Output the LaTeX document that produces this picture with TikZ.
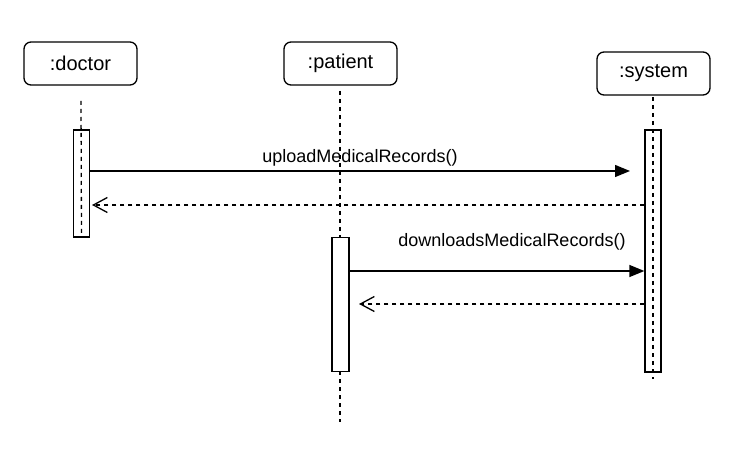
\documentclass[tikz,border=0pt]{standalone}
\usepackage{fontspec}
\setmainfont{Liberation Sans}
\usetikzlibrary{arrows.meta}
\begin{document}
\begin{tikzpicture}[x=1pt,y=-1pt,
  obj/.style={draw, rounded corners=7pt, line width=1.3pt, minimum width=113pt, minimum height=43pt, inner sep=0pt, font=\fontsize{20}{22}\selectfont},
  act/.style={draw, line width=1.3pt, minimum width=16pt, inner sep=0pt},
  life/.style={line width=1.3pt, dash pattern=on 4pt off 4pt},
  msg/.style={line width=1.3pt, -{Triangle[length=15pt,width=12pt]}},
  ret/.style={line width=1.3pt, dash pattern=on 4pt off 4pt, -{Straight Barb[length=14pt,width=15pt,line width=1.3pt]}},
  lbl/.style={inner sep=0pt, font=\fontsize{18}{20}\selectfont}
]
\useasboundingbox (0,0) rectangle (742,457);
% objects
\node[obj] (doc) at (80.5,63.5) {:doctor};
\node[obj] (pat) at (340.5,63.5) {:patient};
\node[obj] (sys) at (653.5,73.5) {:system};
% lifeline coordinates
\coordinate (dl0) at (81,101);
\coordinate (pl0) at (340,91);
\coordinate (pl1) at (340,422);
\coordinate (sl0) at (653,97);
\coordinate (sl1) at (653,379);
% activation boxes
\node[act, minimum height=107pt] (da) at (81.5,183.5) {};
\node[act, minimum height=242pt] (sa) at (653,251) {};
% lifelines
\draw[life] (dl0) -- (da.south);
\draw[life] (sl0) -- (sl1);
\draw[life] (pl0) -- (pl1);
\node[act, fill=white, minimum width=17pt, minimum height=134pt] (pa) at (340.5,304.5) {};
% messages
\coordinate (u1e) at (630,171);
\draw[msg] (da.east |- u1e) -- (u1e);
\node[lbl] (l1) at (360,158) {uploadMedicalRecords()};
\coordinate (r1e) at (92,205);
\draw[ret] (sa.west |- r1e) -- (r1e);
\coordinate (d2y) at (0,271);
\draw[msg] (pa.east |- d2y) -- (sa.west |- d2y);
\node[lbl] (l2) at (512,242) {downloadsMedicalRecords()};
\coordinate (r2e) at (359,304);
\draw[ret] (sa.west |- r2e) -- (r2e);
\end{tikzpicture}
\end{document}
